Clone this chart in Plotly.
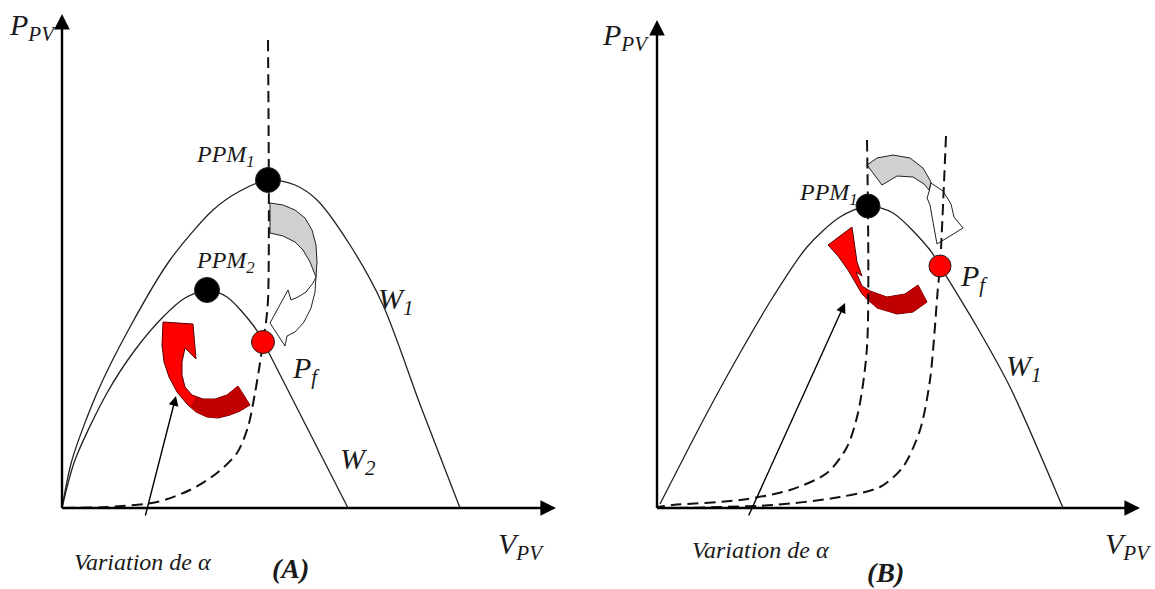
import plotly.graph_objects as go

# ---------------- data (normalised units: V and P, 0..100) ----------------
# Panel A
W1_A_V = [0, 2, 7, 13.6, 21.6, 30.2, 35.6, 41.2, 46.6, 51, 57.6, 64.2, 71.8, 79.6]
W1_A_P = [0, 9.6, 23, 36.2, 49.6, 59.6, 63.4, 65.6, 64.6, 61.6, 52.6, 40.6, 20.2, 0]
W2_A_V = [0, 2.6, 9, 14.6, 20.2, 24.6, 29, 33, 38.2, 40.2, 41.6, 57.2]
W2_A_P = [0, 9.6, 23, 31.6, 38.2, 42, 43.6, 42.2, 36.6, 33.4, 30.6, 0]
LOAD_A_V = [41.2, 41.2, 40.6, 40.2, 39.6, 38.6, 37.2, 35, 31, 25.6, 19, 9, 0]
LOAD_A_P = [93.6, 41.6, 35.6, 33.2, 29, 23, 16.2, 11, 7, 3.6, 1.2, 0.2, 0]
PPM_A_V = [41.2, 29]
PPM_A_P = [65.6, 43.6]
PF_A = (40.2, 33.2)

# Panel B
W1_B_V = [0.6, 10, 16.6, 23.2, 30, 36.6, 42.2, 47.2, 54.6, 56.6, 64, 70.6, 81.2]
W1_B_P = [0.8, 19, 31, 42.2, 52.2, 58.2, 60.4, 59, 51.6, 48.4, 36.2, 24.2, 0]
LOAD1_B_V = [42, 42, 40.2, 38, 34, 26.6, 16.6, 3.2, 0]
LOAD1_B_P = [73.6, 32.2, 19, 12.2, 7, 3.6, 1.6, 0.6, 0.2]
LOAD2_B_V = [57.8, 56.6, 56.2, 54.6, 52.6, 49.2, 44.6, 36.6, 23.2, 3.2, 0]
LOAD2_B_P = [74.4, 48.4, 44.2, 25.6, 15.6, 8.2, 4.2, 2.2, 0.6, 0, 0]
PPM_B = (42.2, 60.4)
PF_B = (56.6, 48.4)

# decorative curved arrows (outlines)
RED_A = [(37.6, 20.6), (35.6, 19.4), (33.6, 18.6), (31.2, 18), (29, 18.2), (26.8, 19.2), (25, 20.8),
         (23, 23.2), (21.4, 26.2), (20.4, 29.2), (20, 32.6), (20.2, 37.2), (26.2, 36.8), (26.8, 29.8),
         (24.6, 32.0), (24.0, 29.2), (24.0, 26.6), (24.6, 24.2), (26, 22.6), (28.2, 21.8), (30.6, 21.8),
         (33, 22.6), (35.2, 24.4)]
RED_A_DARK = [(37.6, 20.6), (35.6, 19.4), (33.6, 18.6), (31.2, 18), (29, 18.2), (26.8, 19.2), (25.6, 20.2),
              (26.8, 22.2), (28.2, 21.8), (30.6, 21.8), (33, 22.6), (35.2, 24.4)]
GRAY_A = [(41.6, 61), (44.2, 60.6), (46.6, 59.6), (48.6, 58), (50, 55.6), (50.8, 52.6), (51, 49.2),
          (50.8, 46.2), (49.6, 49.2), (48.2, 51.6), (46.6, 53.2), (44.2, 54.4), (41.6, 55)]
WHITE_A = [(50.8, 46.2), (50.6, 43.2), (49.8, 40), (48.4, 37.2), (46.6, 35.2), (45, 34.4), (44.6, 32.4),
           (41.6, 37), (45.2, 43.6), (45.8, 41.6), (47.2, 42.2), (48.8, 43.2), (50.2, 45)]
RED_B = [(34.2, 52.6), (39, 56.2), (40, 49.2), (41, 46.4), (39.8, 47.2), (41, 44.4), (42.6, 43.4), (46, 42.2),
         (49.6, 42.8), (52.2, 44.6), (54, 41.2), (51.2, 39.2), (48, 38.8), (44, 40), (41, 42.8),
         (38.2, 47.6), (36.2, 50.4)]
RED_B_DARK = [(42.6, 43.4), (46, 42.2), (49.6, 42.8), (52.2, 44.6), (54, 41.2), (51.2, 39.2), (48, 38.8),
              (44, 40), (41.6, 42)]
GRAY_B = [(42, 68.6), (44, 70), (47.2, 70.6), (50.6, 70), (53.2, 68), (54.8, 65.2), (54.4, 63.6),
          (53.4, 64.8), (51.2, 66.2), (48, 66.4), (45, 64.6)]
WHITE_B = [(54.8, 65), (57.2, 63.4), (58.8, 60.8), (59.4, 58.2), (61.2, 56), (56, 52.8), (55.2, 57.2),
           (54.6, 60.6), (54, 62), (54.4, 63.2)]

FONT = "Liberation Serif"
fig = go.Figure()


def poly(pts, fill, xa, ya, line="#222222"):
    xs = [p[0] for p in pts] + [pts[0][0]]
    ys = [p[1] for p in pts] + [pts[0][1]]
    fig.add_trace(go.Scatter(x=xs, y=ys, mode="lines", fill="toself", fillcolor=fill,
                             line=dict(color=line, width=1), xaxis=xa, yaxis=ya,
                             hoverinfo="skip", showlegend=False))


def curve(xs, ys, xa, ya, dash=None, width=1.3, color="#222222"):
    fig.add_trace(go.Scatter(x=xs, y=ys, mode="lines",
                             line=dict(color=color, width=width, shape="spline", smoothing=0.8,
                                       dash=dash),
                             xaxis=xa, yaxis=ya, hoverinfo="skip", showlegend=False))


def dots(xs, ys, xa, ya, color, size):
    fig.add_trace(go.Scatter(x=xs, y=ys, mode="markers",
                             marker=dict(color=color, size=size, line=dict(color="#222222", width=1)),
                             xaxis=xa, yaxis=ya, hoverinfo="skip", showlegend=False))


# --- Panel A ---
poly(RED_A, "#ff0000", "x", "y", line="#5a0000")
poly(RED_A_DARK, "#c00000", "x", "y", line="rgba(0,0,0,0)")
poly(GRAY_A, "#d0d0d0", "x", "y")
poly(WHITE_A, "#ffffff", "x", "y")
curve(W1_A_V, W1_A_P, "x", "y")
curve(W2_A_V, W2_A_P, "x", "y")
curve(LOAD_A_V, LOAD_A_P, "x", "y", dash="11px,6px", width=2, color="#111111")
dots(PPM_A_V, PPM_A_P, "x", "y", "#000000", 25)
dots([PF_A[0]], [PF_A[1]], "x", "y", "#ff0000", 23)

# --- Panel B ---
poly(RED_B, "#ff0000", "x2", "y2", line="#5a0000")
poly(RED_B_DARK, "#c00000", "x2", "y2", line="rgba(0,0,0,0)")
poly(GRAY_B, "#d0d0d0", "x2", "y2")
poly(WHITE_B, "#ffffff", "x2", "y2")
curve(W1_B_V, W1_B_P, "x2", "y2")
curve(LOAD1_B_V, LOAD1_B_P, "x2", "y2", dash="11px,6px", width=2, color="#111111")
curve(LOAD2_B_V, LOAD2_B_P, "x2", "y2", dash="11px,6px", width=2, color="#111111")
dots([PPM_B[0]], [PPM_B[1]], "x2", "y2", "#000000", 24)
dots([PF_B[0]], [PF_B[1]], "x2", "y2", "#ff0000", 22)

ann = []


def arrow(x, y, ax, ay, xr, yr, width, size, head=2):
    ann.append(dict(x=x, y=y, ax=ax, ay=ay, xref=xr, yref=yr, axref=xr, ayref=yr,
                    showarrow=True, arrowhead=head, arrowsize=size, arrowwidth=width,
                    arrowcolor="#000000", text="", standoff=0, startstandoff=0))


def label(x, y, text, xr, yr, size):
    ann.append(dict(x=x, y=y, xref=xr, yref=yr, text=text, showarrow=False,
                    font=dict(family=FONT, size=size, color="#1a1a1a"),
                    xanchor="center", yanchor="middle"))


# axes arrows
arrow(0, 98.8, 0, -0.3, "x", "y", 2.4, 1.3)
arrow(98.8, 0, -0.3, 0, "x", "y", 2.4, 1.3)
arrow(0, 97.6, 0, -0.3, "x2", "y2", 2.4, 1.3)
arrow(96.6, 0, -0.3, 0, "x2", "y2", 2.4, 1.3)
# "variation" pointers
arrow(22.8, 22.4, 16.6, -1.8, "x", "y", 1.4, 1.4)
arrow(37.6, 41, 18.2, -1.8, "x2", "y2", 1.4, 1.4)

# labels panel A
label(-6, 96.2, "<i>P<sub>PV</sub></i>", "x", "y", 30)
label(91.8, -7.6, "<i>V<sub>PV</sub></i>", "x", "y", 30)
label(32.6, 70.4, "<i>PPM<sub>1</sub></i>", "x", "y", 24)
label(32.6, 49.2, "<i>PPM<sub>2</sub></i>", "x", "y", 24)
label(48.8, 27.6, "<i>P<sub>f</sub></i>", "x", "y", 30)
label(66.8, 41.4, "<i>W<sub>1</sub></i>", "x", "y", 30)
label(59.2, 9.4, "<i>W<sub>2</sub></i>", "x", "y", 30)
label(16, -10.8, "<i>Variation de α</i>", "x", "y", 24)
label(45.6, -12, "<b><i>(A)</i></b>", "x", "y", 28)
# labels panel B
label(-6.4, 94.2, "<i>P<sub>PV</sub></i>", "x2", "y2", 30)
label(94.2, -7.6, "<i>V<sub>PV</sub></i>", "x2", "y2", 30)
label(34.2, 62.8, "<i>PPM<sub>1</sub></i>", "x2", "y2", 24)
label(63.4, 46, "<i>P<sub>f</sub></i>", "x2", "y2", 30)
label(73.4, 28, "<i>W<sub>1</sub></i>", "x2", "y2", 30)
label(20.6, -8.4, "<i>Variation de α</i>", "x2", "y2", 24)
label(45.6, -12.8, "<b><i>(B)</i></b>", "x2", "y2", 28)

ax_common = dict(visible=False, fixedrange=True)
fig.update_layout(
    width=1155, height=589,
    margin=dict(l=0, r=0, t=0, b=0),
    paper_bgcolor="white", plot_bgcolor="white",
    showlegend=False,
    xaxis=dict(domain=[0, 0.5], range=[-12.4, 103.1], **ax_common),
    yaxis=dict(domain=[0, 1], range=[-16.2, 101.6], **ax_common),
    xaxis2=dict(domain=[0.5, 1], range=[-15.9, 99.6], anchor="y2", **ax_common),
    yaxis2=dict(domain=[0, 1], range=[-16.2, 101.6], anchor="x2", **ax_common),
    annotations=ann,
)

fig.write_html("out.html", config={"displayModeBar": False},
               post_script="document.body.style.margin='0px';document.body.style.overflow='hidden';")
